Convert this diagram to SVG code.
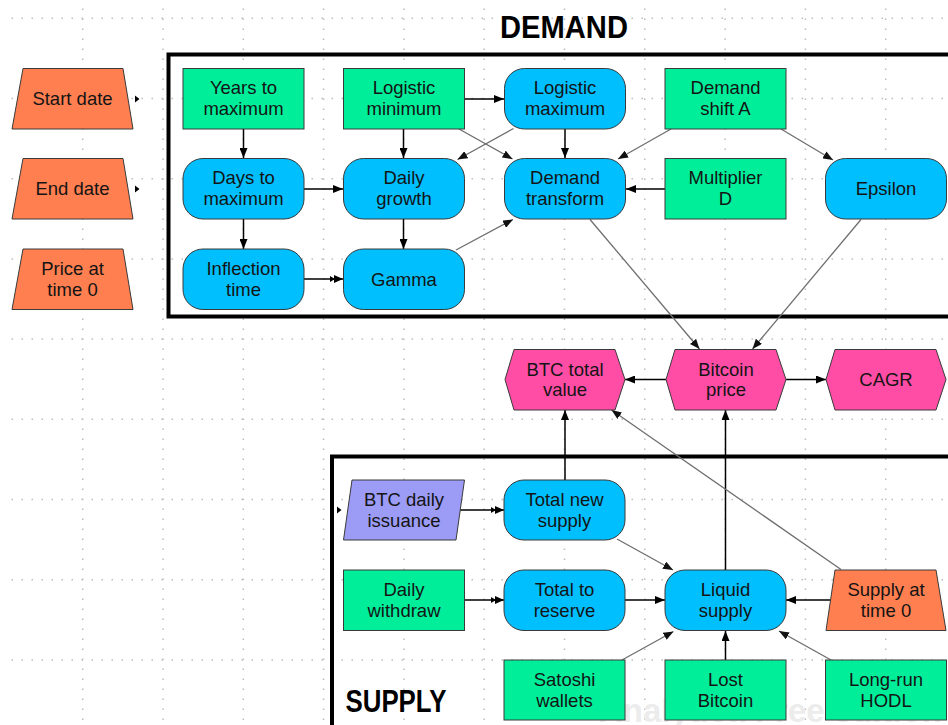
<svg xmlns="http://www.w3.org/2000/svg" width="948" height="725" viewBox="0 0 948 725">
<style>
.grid{stroke:#bdbdbd;stroke-width:1.5;fill:none}
.gh{stroke-dasharray:1.5 8.5}
.gv{stroke-dasharray:1.5 8.5}
.nd{stroke:#3a3a3a;stroke-width:1}
.inp{fill:#ff7f50}
.var{fill:#00ee9a}
.obj{fill:#00bfff}
.out{fill:#ff4da6}
.iss{fill:#9c9cf6}
text{font-family:"Liberation Sans",Arial,sans-serif;font-size:18.5px;fill:#141414;text-anchor:middle}
.title{font-weight:bold;font-size:31px;fill:#000}
.wm{font-weight:bold;font-size:33px;fill:#ececec;text-anchor:start}
.blk{stroke:#000;stroke-width:1.5;fill:none}
.gry{stroke:#6e6e6e;stroke-width:1.3;fill:none}
.frame{fill:none;stroke:#000;stroke-width:4}
</style>
<defs>
<marker id="ar" viewBox="0 0 10 8" refX="10" refY="4" markerWidth="10" markerHeight="8" markerUnits="userSpaceOnUse" orient="auto"><path d="M0,0 L10,4 L0,8 z" fill="#000"/></marker>
<marker id="ag" viewBox="0 0 10 8" refX="10" refY="4" markerWidth="10" markerHeight="8" markerUnits="userSpaceOnUse" orient="auto"><path d="M0,0 L10,4 L0,8 z" fill="#111"/></marker>
<marker id="ad" viewBox="0 0 13 8" refX="13" refY="4" markerWidth="13" markerHeight="8" markerUnits="userSpaceOnUse" orient="auto"><path d="M0,1 L5,4 L0,7 z M4,0 L13,4 L4,8 z" fill="#000"/></marker>
</defs>
<rect width="948" height="725" fill="#fff"/>
<g id="grid" class="grid">
<path class="gh" d="M11.5,18.3H948M11.5,98.5H948M11.5,178.7H948M11.5,258.9H948M11.5,339.1H948M11.5,419.3H948M11.5,499.5H948M11.5,579.7H948M11.5,659.9H948"/>
<path class="gv" d="M82.7,8.5V725M163,8.5V725M243.3,8.5V725M323.6,8.5V725M403.9,8.5V725M484.2,8.5V725M564.5,8.5V725M644.8,8.5V725M725.1,8.5V725M805.4,8.5V725M885.7,8.5V725"/>
</g>
<text class="wm" x="599" y="722">Analytica Free edition</text>
<g id="frames">
<rect class="frame" x="168.5" y="54.5" width="800" height="262"/>
<rect class="frame" x="332" y="456.5" width="640" height="300"/>
<text class="title" x="564" y="38" textLength="128" lengthAdjust="spacingAndGlyphs">DEMAND</text>
<text class="title" x="396" y="712" textLength="101" lengthAdjust="spacingAndGlyphs">SUPPLY</text>
</g>
<g id="connectors">
<path class="blk" marker-end="url(#ar)" d="M243.5,129V158"/>
<path class="blk" marker-end="url(#ar)" d="M243.5,219V249"/>
<path class="blk" marker-end="url(#ar)" d="M304,189H343"/>
<path class="blk" marker-end="url(#ad)" d="M304,279H343"/>
<path class="blk" marker-end="url(#ar)" d="M464,99H504"/>
<path class="blk" marker-end="url(#ar)" d="M403.5,129V158"/>
<path class="gry" marker-end="url(#ag)" d="M459,129L512.5,159"/>
<path class="gry" marker-end="url(#ag)" d="M513.5,128.5L457.5,159.5"/>
<path class="blk" marker-end="url(#ar)" d="M565,129V158"/>
<path class="blk" marker-end="url(#ar)" d="M403.5,219V249"/>
<path class="gry" marker-end="url(#ag)" d="M456,250L513,219.5"/>
<path class="gry" marker-end="url(#ag)" d="M671,129L618,159"/>
<path class="gry" marker-end="url(#ag)" d="M781,129L833,160"/>
<path class="blk" marker-end="url(#ar)" d="M665,189H626"/>
<path class="gry" marker-end="url(#ag)" d="M590,219.5L699.5,349"/>
<path class="gry" marker-end="url(#ag)" d="M861,219.5L752.5,349"/>
<path class="blk" marker-end="url(#ar)" d="M666,379.5H625"/>
<path class="blk" marker-end="url(#ar)" d="M786,379.5H826"/>
<path class="blk" marker-end="url(#ar)" d="M565,480V410"/>
<path class="blk" marker-end="url(#ar)" d="M725.5,570V410"/>
<path class="gry" marker-end="url(#ag)" d="M841,569.5L611.5,410"/>
<path class="blk" marker-end="url(#ad)" d="M460,510H504"/>
<path class="gry" marker-end="url(#ag)" d="M617,539L673,570"/>
<path class="blk" marker-end="url(#ad)" d="M464,600H504"/>
<path class="blk" marker-end="url(#ar)" d="M625,600H665"/>
<path class="blk" marker-end="url(#ar)" d="M831,600H786"/>
<path class="gry" marker-end="url(#ag)" d="M622,660L673.5,631.5"/>
<path class="blk" marker-end="url(#ar)" d="M725.5,660V631"/>
<path class="gry" marker-end="url(#ag)" d="M831,660L779,631"/>
<path d="M135,95.5L139.5,99L135,102.5z M135,185.5L139.5,189L135,192.5z M337,506.5L341.5,510L337,513.5z" fill="#000"/>
</g>
<g id="start-date"><polygon class="nd inp" points="23,68.5 123,68.5 133,129 12,129"/><text x="72.5" y="105">Start date</text></g>
<g id="end-date"><polygon class="nd inp" points="23,158.5 123,158.5 133,219 12,219"/><text x="72.5" y="195">End date</text></g>
<g id="price-at-time-0"><polygon class="nd inp" points="23,249 123,249 133,309.5 12,309.5"/><text x="72.5" y="275">Price at</text><text x="72.5" y="295.5">time 0</text></g>
<g id="years-to-maximum"><rect class="nd var" x="183" y="68.5" width="121" height="60.5"/><text x="243.5" y="94.3">Years to</text><text x="243.5" y="115">maximum</text></g>
<g id="days-to-maximum"><rect class="nd obj" x="183" y="158.5" width="121" height="60.5" rx="20"/><text x="243.5" y="184.3">Days to</text><text x="243.5" y="205">maximum</text></g>
<g id="inflection-time"><rect class="nd obj" x="183" y="249" width="121" height="60.5" rx="20"/><text x="243.5" y="274.8">Inflection</text><text x="243.5" y="295.5">time</text></g>
<g id="logistic-minimum"><rect class="nd var" x="343.5" y="68.5" width="121" height="60.5"/><text x="404" y="94.3">Logistic</text><text x="404" y="115">minimum</text></g>
<g id="logistic-maximum"><rect class="nd obj" x="504.5" y="68.5" width="121" height="60.5" rx="20"/><text x="565" y="94.3">Logistic</text><text x="565" y="115">maximum</text></g>
<g id="daily-growth"><rect class="nd obj" x="343.5" y="158.5" width="121" height="60.5" rx="20"/><text x="404" y="184.3">Daily</text><text x="404" y="205">growth</text></g>
<g id="demand-transform"><rect class="nd obj" x="504.5" y="158.5" width="121" height="60.5" rx="20"/><text x="565" y="184.3">Demand</text><text x="565" y="205">transform</text></g>
<g id="gamma"><rect class="nd obj" x="343.5" y="249" width="121" height="60.5" rx="20"/><text x="404" y="285.5">Gamma</text></g>
<g id="demand-shift-a"><rect class="nd var" x="665" y="68.5" width="121" height="60.5"/><text x="725.5" y="94.3">Demand</text><text x="725.5" y="115">shift A</text></g>
<g id="multiplier-d"><rect class="nd var" x="665" y="158.5" width="121" height="60.5"/><text x="725.5" y="184.3">Multiplier</text><text x="725.5" y="205">D</text></g>
<g id="epsilon"><rect class="nd obj" x="825.5" y="158.5" width="121" height="60.5" rx="20"/><text x="886" y="195">Epsilon</text></g>
<g id="btc-total-value"><polygon class="nd out" points="514,349.5 615,349.5 625,379.5 615,410 514,410 505,379.5"/><text x="565" y="375.5">BTC total</text><text x="565" y="396">value</text></g>
<g id="bitcoin-price"><polygon class="nd out" points="675,349.5 776,349.5 786,379.5 776,410 675,410 666,379.5"/><text x="726" y="375.5">Bitcoin</text><text x="726" y="396">price</text></g>
<g id="cagr"><polygon class="nd out" points="835,349.5 936,349.5 946,379.5 936,410 835,410 826,379.5"/><text x="886" y="386">CAGR</text></g>
<g id="btc-daily-issuance"><polygon class="nd iss" points="352,480 464.5,480 456,540 343.5,540"/><text x="404" y="506">BTC daily</text><text x="404" y="526.5">issuance</text></g>
<g id="total-new-supply"><rect class="nd obj" x="504" y="480" width="121" height="60" rx="20"/><text x="564.5" y="506">Total new</text><text x="564.5" y="526.5">supply</text></g>
<g id="daily-withdraw"><rect class="nd var" x="343.5" y="570" width="121" height="60.5"/><text x="404" y="596">Daily</text><text x="404" y="616.5">withdraw</text></g>
<g id="total-to-reserve"><rect class="nd obj" x="504" y="570" width="121" height="60.5" rx="20"/><text x="564.5" y="596">Total to</text><text x="564.5" y="616.5">reserve</text></g>
<g id="liquid-supply"><rect class="nd obj" x="665" y="570" width="121" height="60.5" rx="20"/><text x="725.5" y="596">Liquid</text><text x="725.5" y="616.5">supply</text></g>
<g id="supply-at-time-0"><polygon class="nd inp" points="835,570 936,570 946,630.5 826,630.5"/><text x="886" y="596">Supply at</text><text x="886" y="616.5">time 0</text></g>
<g id="satoshi-wallets"><rect class="nd var" x="504" y="660" width="121" height="60"/><text x="564.5" y="686">Satoshi</text><text x="564.5" y="706.5">wallets</text></g>
<g id="lost-bitcoin"><rect class="nd var" x="665" y="660" width="121" height="60"/><text x="725.5" y="686">Lost</text><text x="725.5" y="706.5">Bitcoin</text></g>
<g id="long-run-hodl"><rect class="nd var" x="825.5" y="660" width="121" height="60"/><text x="886" y="686">Long-run</text><text x="886" y="706.5">HODL</text></g>
</svg>
